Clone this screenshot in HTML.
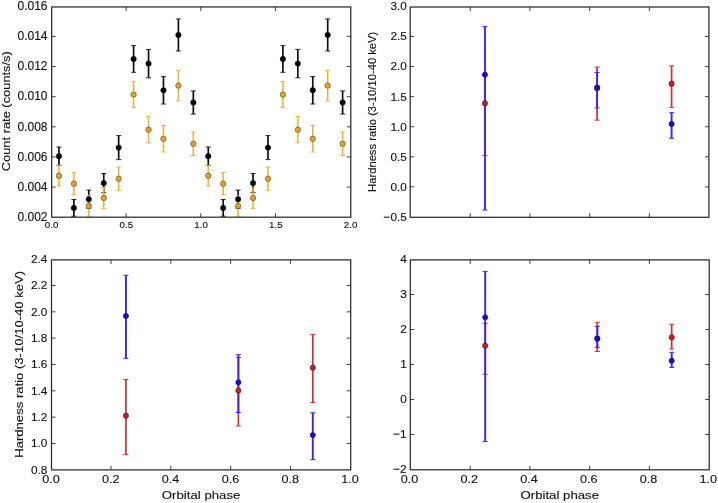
<!DOCTYPE html>
<html><head><meta charset="utf-8"><style>
html,body{margin:0;padding:0;background:#fff;}
body{width:718px;height:503px;overflow:hidden;}
svg{display:block;will-change:transform;font-family:"Liberation Sans", sans-serif;}
text{stroke:#111;stroke-width:0.12px;}
</style></head><body>
<svg width="718" height="503" viewBox="0 0 718 503">
<rect width="718" height="503" fill="#fff"/>
<clipPath id="c1"><rect x="51.70" y="6.96" width="299.10" height="210.24"/></clipPath>
<g clip-path="url(#c1)">
<path d="M58.96 165.40V147.00" stroke="#111" stroke-width="1.70"/>
<path d="M56.46 165.40h5.00M56.46 147.00h5.00" stroke="#111" stroke-width="0.90"/>
<path d="M58.96 186.00V165.60" stroke="#f0ae36" stroke-width="1.50"/>
<path d="M56.46 186.00h5.00M56.46 165.60h5.00" stroke="#f0ae36" stroke-width="0.90"/>
<path d="M73.89 216.25V199.55" stroke="#111" stroke-width="1.70"/>
<path d="M71.39 216.25h5.00M71.39 199.55h5.00" stroke="#111" stroke-width="0.90"/>
<path d="M73.89 194.80V172.60" stroke="#f0ae36" stroke-width="1.50"/>
<path d="M71.39 194.80h5.00M71.39 172.60h5.00" stroke="#f0ae36" stroke-width="0.90"/>
<path d="M88.81 208.30V190.10" stroke="#111" stroke-width="1.70"/>
<path d="M86.31 208.30h5.00M86.31 190.10h5.00" stroke="#111" stroke-width="0.90"/>
<path d="M88.81 216.20V195.60" stroke="#f0ae36" stroke-width="1.50"/>
<path d="M86.31 216.20h5.00M86.31 195.60h5.00" stroke="#f0ae36" stroke-width="0.90"/>
<path d="M103.75 192.70V173.50" stroke="#111" stroke-width="1.70"/>
<path d="M101.25 192.70h5.00M101.25 173.50h5.00" stroke="#111" stroke-width="0.90"/>
<path d="M103.75 208.70V187.30" stroke="#f0ae36" stroke-width="1.50"/>
<path d="M101.25 208.70h5.00M101.25 187.30h5.00" stroke="#f0ae36" stroke-width="0.90"/>
<path d="M118.68 159.60V135.60" stroke="#111" stroke-width="1.70"/>
<path d="M116.18 159.60h5.00M116.18 135.60h5.00" stroke="#111" stroke-width="0.90"/>
<path d="M118.68 190.40V167.00" stroke="#f0ae36" stroke-width="1.50"/>
<path d="M116.18 190.40h5.00M116.18 167.00h5.00" stroke="#f0ae36" stroke-width="0.90"/>
<path d="M133.61 72.30V45.60" stroke="#111" stroke-width="1.70"/>
<path d="M131.11 72.30h5.00M131.11 45.60h5.00" stroke="#111" stroke-width="0.90"/>
<path d="M133.61 107.50V81.70" stroke="#f0ae36" stroke-width="1.50"/>
<path d="M131.11 107.50h5.00M131.11 81.70h5.00" stroke="#f0ae36" stroke-width="0.90"/>
<path d="M148.54 77.80V49.40" stroke="#111" stroke-width="1.70"/>
<path d="M146.04 77.80h5.00M146.04 49.40h5.00" stroke="#111" stroke-width="0.90"/>
<path d="M148.54 142.90V116.50" stroke="#f0ae36" stroke-width="1.50"/>
<path d="M146.04 142.90h5.00M146.04 116.50h5.00" stroke="#f0ae36" stroke-width="0.90"/>
<path d="M163.47 104.00V76.60" stroke="#111" stroke-width="1.70"/>
<path d="M160.97 104.00h5.00M160.97 76.60h5.00" stroke="#111" stroke-width="0.90"/>
<path d="M163.47 152.00V125.60" stroke="#f0ae36" stroke-width="1.50"/>
<path d="M160.97 152.00h5.00M160.97 125.60h5.00" stroke="#f0ae36" stroke-width="0.90"/>
<path d="M178.40 51.00V18.90" stroke="#111" stroke-width="1.70"/>
<path d="M175.90 51.00h5.00M175.90 18.90h5.00" stroke="#111" stroke-width="0.90"/>
<path d="M178.40 100.80V70.40" stroke="#f0ae36" stroke-width="1.50"/>
<path d="M175.90 100.80h5.00M175.90 70.40h5.00" stroke="#f0ae36" stroke-width="0.90"/>
<path d="M193.33 114.10V90.90" stroke="#111" stroke-width="1.70"/>
<path d="M190.83 114.10h5.00M190.83 90.90h5.00" stroke="#111" stroke-width="0.90"/>
<path d="M193.33 155.50V132.10" stroke="#f0ae36" stroke-width="1.50"/>
<path d="M190.83 155.50h5.00M190.83 132.10h5.00" stroke="#f0ae36" stroke-width="0.90"/>
<path d="M208.26 165.40V147.00" stroke="#111" stroke-width="1.70"/>
<path d="M205.76 165.40h5.00M205.76 147.00h5.00" stroke="#111" stroke-width="0.90"/>
<path d="M208.26 186.00V165.60" stroke="#f0ae36" stroke-width="1.50"/>
<path d="M205.76 186.00h5.00M205.76 165.60h5.00" stroke="#f0ae36" stroke-width="0.90"/>
<path d="M223.19 216.25V199.55" stroke="#111" stroke-width="1.70"/>
<path d="M220.69 216.25h5.00M220.69 199.55h5.00" stroke="#111" stroke-width="0.90"/>
<path d="M223.19 194.80V172.60" stroke="#f0ae36" stroke-width="1.50"/>
<path d="M220.69 194.80h5.00M220.69 172.60h5.00" stroke="#f0ae36" stroke-width="0.90"/>
<path d="M238.12 208.30V190.10" stroke="#111" stroke-width="1.70"/>
<path d="M235.62 208.30h5.00M235.62 190.10h5.00" stroke="#111" stroke-width="0.90"/>
<path d="M238.12 216.20V195.60" stroke="#f0ae36" stroke-width="1.50"/>
<path d="M235.62 216.20h5.00M235.62 195.60h5.00" stroke="#f0ae36" stroke-width="0.90"/>
<path d="M253.05 192.70V173.50" stroke="#111" stroke-width="1.70"/>
<path d="M250.55 192.70h5.00M250.55 173.50h5.00" stroke="#111" stroke-width="0.90"/>
<path d="M253.05 208.70V187.30" stroke="#f0ae36" stroke-width="1.50"/>
<path d="M250.55 208.70h5.00M250.55 187.30h5.00" stroke="#f0ae36" stroke-width="0.90"/>
<path d="M267.98 159.60V135.60" stroke="#111" stroke-width="1.70"/>
<path d="M265.48 159.60h5.00M265.48 135.60h5.00" stroke="#111" stroke-width="0.90"/>
<path d="M267.98 190.40V167.00" stroke="#f0ae36" stroke-width="1.50"/>
<path d="M265.48 190.40h5.00M265.48 167.00h5.00" stroke="#f0ae36" stroke-width="0.90"/>
<path d="M282.91 72.30V45.60" stroke="#111" stroke-width="1.70"/>
<path d="M280.41 72.30h5.00M280.41 45.60h5.00" stroke="#111" stroke-width="0.90"/>
<path d="M282.91 107.50V81.70" stroke="#f0ae36" stroke-width="1.50"/>
<path d="M280.41 107.50h5.00M280.41 81.70h5.00" stroke="#f0ae36" stroke-width="0.90"/>
<path d="M297.84 77.80V49.40" stroke="#111" stroke-width="1.70"/>
<path d="M295.34 77.80h5.00M295.34 49.40h5.00" stroke="#111" stroke-width="0.90"/>
<path d="M297.84 142.90V116.50" stroke="#f0ae36" stroke-width="1.50"/>
<path d="M295.34 142.90h5.00M295.34 116.50h5.00" stroke="#f0ae36" stroke-width="0.90"/>
<path d="M312.77 104.00V76.60" stroke="#111" stroke-width="1.70"/>
<path d="M310.27 104.00h5.00M310.27 76.60h5.00" stroke="#111" stroke-width="0.90"/>
<path d="M312.77 152.00V125.60" stroke="#f0ae36" stroke-width="1.50"/>
<path d="M310.27 152.00h5.00M310.27 125.60h5.00" stroke="#f0ae36" stroke-width="0.90"/>
<path d="M327.70 51.00V18.90" stroke="#111" stroke-width="1.70"/>
<path d="M325.20 51.00h5.00M325.20 18.90h5.00" stroke="#111" stroke-width="0.90"/>
<path d="M327.70 100.80V70.40" stroke="#f0ae36" stroke-width="1.50"/>
<path d="M325.20 100.80h5.00M325.20 70.40h5.00" stroke="#f0ae36" stroke-width="0.90"/>
<path d="M342.63 114.10V90.90" stroke="#111" stroke-width="1.70"/>
<path d="M340.13 114.10h5.00M340.13 90.90h5.00" stroke="#111" stroke-width="0.90"/>
<path d="M342.63 155.50V132.10" stroke="#f0ae36" stroke-width="1.50"/>
<path d="M340.13 155.50h5.00M340.13 132.10h5.00" stroke="#f0ae36" stroke-width="0.90"/>
<circle cx="58.96" cy="156.20" r="2.70" fill="#000000" stroke="#000000" stroke-width="0.50"/>
<circle cx="58.96" cy="175.80" r="2.70" fill="#e8a025" stroke="#5a4520" stroke-width="0.60"/>
<circle cx="73.89" cy="207.90" r="2.70" fill="#000000" stroke="#000000" stroke-width="0.50"/>
<circle cx="73.89" cy="183.70" r="2.70" fill="#e8a025" stroke="#5a4520" stroke-width="0.60"/>
<circle cx="88.81" cy="199.20" r="2.70" fill="#000000" stroke="#000000" stroke-width="0.50"/>
<circle cx="88.81" cy="205.90" r="2.70" fill="#e8a025" stroke="#5a4520" stroke-width="0.60"/>
<circle cx="103.75" cy="183.10" r="2.70" fill="#000000" stroke="#000000" stroke-width="0.50"/>
<circle cx="103.75" cy="198.00" r="2.70" fill="#e8a025" stroke="#5a4520" stroke-width="0.60"/>
<circle cx="118.68" cy="147.60" r="2.70" fill="#000000" stroke="#000000" stroke-width="0.50"/>
<circle cx="118.68" cy="178.70" r="2.70" fill="#e8a025" stroke="#5a4520" stroke-width="0.60"/>
<circle cx="133.61" cy="58.95" r="2.70" fill="#000000" stroke="#000000" stroke-width="0.50"/>
<circle cx="133.61" cy="94.60" r="2.70" fill="#e8a025" stroke="#5a4520" stroke-width="0.60"/>
<circle cx="148.54" cy="63.60" r="2.70" fill="#000000" stroke="#000000" stroke-width="0.50"/>
<circle cx="148.54" cy="129.70" r="2.70" fill="#e8a025" stroke="#5a4520" stroke-width="0.60"/>
<circle cx="163.47" cy="90.30" r="2.70" fill="#000000" stroke="#000000" stroke-width="0.50"/>
<circle cx="163.47" cy="138.80" r="2.70" fill="#e8a025" stroke="#5a4520" stroke-width="0.60"/>
<circle cx="178.40" cy="34.95" r="2.70" fill="#000000" stroke="#000000" stroke-width="0.50"/>
<circle cx="178.40" cy="85.60" r="2.70" fill="#e8a025" stroke="#5a4520" stroke-width="0.60"/>
<circle cx="193.33" cy="102.50" r="2.70" fill="#000000" stroke="#000000" stroke-width="0.50"/>
<circle cx="193.33" cy="143.80" r="2.70" fill="#e8a025" stroke="#5a4520" stroke-width="0.60"/>
<circle cx="208.26" cy="156.20" r="2.70" fill="#000000" stroke="#000000" stroke-width="0.50"/>
<circle cx="208.26" cy="175.80" r="2.70" fill="#e8a025" stroke="#5a4520" stroke-width="0.60"/>
<circle cx="223.19" cy="207.90" r="2.70" fill="#000000" stroke="#000000" stroke-width="0.50"/>
<circle cx="223.19" cy="183.70" r="2.70" fill="#e8a025" stroke="#5a4520" stroke-width="0.60"/>
<circle cx="238.12" cy="199.20" r="2.70" fill="#000000" stroke="#000000" stroke-width="0.50"/>
<circle cx="238.12" cy="205.90" r="2.70" fill="#e8a025" stroke="#5a4520" stroke-width="0.60"/>
<circle cx="253.05" cy="183.10" r="2.70" fill="#000000" stroke="#000000" stroke-width="0.50"/>
<circle cx="253.05" cy="198.00" r="2.70" fill="#e8a025" stroke="#5a4520" stroke-width="0.60"/>
<circle cx="267.98" cy="147.60" r="2.70" fill="#000000" stroke="#000000" stroke-width="0.50"/>
<circle cx="267.98" cy="178.70" r="2.70" fill="#e8a025" stroke="#5a4520" stroke-width="0.60"/>
<circle cx="282.91" cy="58.95" r="2.70" fill="#000000" stroke="#000000" stroke-width="0.50"/>
<circle cx="282.91" cy="94.60" r="2.70" fill="#e8a025" stroke="#5a4520" stroke-width="0.60"/>
<circle cx="297.84" cy="63.60" r="2.70" fill="#000000" stroke="#000000" stroke-width="0.50"/>
<circle cx="297.84" cy="129.70" r="2.70" fill="#e8a025" stroke="#5a4520" stroke-width="0.60"/>
<circle cx="312.77" cy="90.30" r="2.70" fill="#000000" stroke="#000000" stroke-width="0.50"/>
<circle cx="312.77" cy="138.80" r="2.70" fill="#e8a025" stroke="#5a4520" stroke-width="0.60"/>
<circle cx="327.70" cy="34.95" r="2.70" fill="#000000" stroke="#000000" stroke-width="0.50"/>
<circle cx="327.70" cy="85.60" r="2.70" fill="#e8a025" stroke="#5a4520" stroke-width="0.60"/>
<circle cx="342.63" cy="102.50" r="2.70" fill="#000000" stroke="#000000" stroke-width="0.50"/>
<circle cx="342.63" cy="143.80" r="2.70" fill="#e8a025" stroke="#5a4520" stroke-width="0.60"/>
</g>
<path d="M126.14 217.20V213.20M126.14 6.96V10.96M200.79 217.20V213.20M200.79 6.96V10.96M275.44 217.20V213.20M275.44 6.96V10.96M51.70 187.12H55.70M350.80 187.12H346.80M51.70 156.97H55.70M350.80 156.97H346.80M51.70 126.83H55.70M350.80 126.83H346.80M51.70 96.67H55.70M350.80 96.67H346.80M51.70 66.53H55.70M350.80 66.53H346.80M51.70 36.38H55.70M350.80 36.38H346.80" stroke="#2b2b2b" stroke-width="0.9" fill="none"/>
<rect x="51.70" y="6.96" width="299.10" height="210.24" fill="none" stroke="#2b2b2b" stroke-width="1.25"/>
<clipPath id="c2"><rect x="410.20" y="7.00" width="298.70" height="210.30"/></clipPath>
<g clip-path="url(#c2)">
<path d="M484.95 155.35V74.66" stroke="#d42c32" stroke-width="1.70"/>
<path d="M482.45 155.35h5.00M482.45 74.66h5.00" stroke="#d42c32" stroke-width="1.00"/>
<path d="M597.10 120.14V67.09" stroke="#d42c32" stroke-width="1.70"/>
<path d="M594.60 120.14h5.00M594.60 67.09h5.00" stroke="#d42c32" stroke-width="1.00"/>
<path d="M671.60 107.46V65.88" stroke="#d42c32" stroke-width="1.70"/>
<path d="M669.10 107.46h5.00M669.10 65.88h5.00" stroke="#d42c32" stroke-width="1.00"/>
<path d="M484.95 210.03V26.41" stroke="#4020ff" stroke-width="1.90"/>
<path d="M482.45 210.03h5.00M482.45 26.41h5.00" stroke="#4020ff" stroke-width="1.00"/>
<path d="M597.10 107.94V72.49" stroke="#4020ff" stroke-width="1.90"/>
<path d="M594.60 107.94h5.00M594.60 72.49h5.00" stroke="#4020ff" stroke-width="1.00"/>
<path d="M671.60 138.23V112.69" stroke="#4020ff" stroke-width="1.90"/>
<path d="M669.10 138.23h5.00M669.10 112.69h5.00" stroke="#4020ff" stroke-width="1.00"/>
<circle cx="484.95" cy="103.14" r="2.60" fill="#d8181e" stroke="#1a1a1a" stroke-width="0.60"/>
<circle cx="597.10" cy="88.42" r="2.60" fill="#d8181e" stroke="#1a1a1a" stroke-width="0.60"/>
<circle cx="671.60" cy="83.67" r="2.60" fill="#d8181e" stroke="#1a1a1a" stroke-width="0.60"/>
<circle cx="484.95" cy="74.66" r="2.60" fill="#1c06ea" stroke="#1a1a1a" stroke-width="0.60"/>
<circle cx="597.10" cy="87.27" r="2.60" fill="#1c06ea" stroke="#1a1a1a" stroke-width="0.60"/>
<circle cx="671.60" cy="123.93" r="2.60" fill="#1c06ea" stroke="#1a1a1a" stroke-width="0.60"/>
</g>
<path d="M470.22 217.30V213.30M470.22 7.00V11.00M529.94 217.30V213.30M529.94 7.00V11.00M589.66 217.30V213.30M589.66 7.00V11.00M649.38 217.30V213.30M649.38 7.00V11.00M410.20 186.87H414.20M708.90 186.87H704.90M410.20 156.79H414.20M708.90 156.79H704.90M410.20 126.71H414.20M708.90 126.71H704.90M410.20 96.63H414.20M708.90 96.63H704.90M410.20 66.55H414.20M708.90 66.55H704.90M410.20 36.47H414.20M708.90 36.47H704.90" stroke="#2b2b2b" stroke-width="0.9" fill="none"/>
<rect x="410.20" y="7.00" width="298.70" height="210.30" fill="none" stroke="#2b2b2b" stroke-width="1.25"/>
<clipPath id="c3"><rect x="51.50" y="259.90" width="299.20" height="210.00"/></clipPath>
<g clip-path="url(#c3)">
<path d="M125.95 454.67V379.47" stroke="#d42c32" stroke-width="1.70"/>
<path d="M123.45 454.67h5.00M123.45 379.47h5.00" stroke="#d42c32" stroke-width="1.00"/>
<path d="M238.40 426.06V357.55" stroke="#d42c32" stroke-width="1.70"/>
<path d="M235.90 426.06h5.00M235.90 357.55h5.00" stroke="#d42c32" stroke-width="1.00"/>
<path d="M312.80 402.57V334.32" stroke="#d42c32" stroke-width="1.70"/>
<path d="M310.30 402.57h5.00M310.30 334.32h5.00" stroke="#d42c32" stroke-width="1.00"/>
<path d="M125.95 358.34V275.26" stroke="#4020ff" stroke-width="1.90"/>
<path d="M123.45 358.34h5.00M123.45 275.26h5.00" stroke="#4020ff" stroke-width="1.00"/>
<path d="M238.40 412.54V354.66" stroke="#4020ff" stroke-width="1.90"/>
<path d="M235.90 412.54h5.00M235.90 354.66h5.00" stroke="#4020ff" stroke-width="1.00"/>
<path d="M312.80 459.66V412.81" stroke="#4020ff" stroke-width="1.90"/>
<path d="M310.30 459.66h5.00M310.30 412.81h5.00" stroke="#4020ff" stroke-width="1.00"/>
<circle cx="125.95" cy="415.69" r="2.60" fill="#d8181e" stroke="#1a1a1a" stroke-width="0.60"/>
<circle cx="238.40" cy="390.49" r="2.60" fill="#d8181e" stroke="#1a1a1a" stroke-width="0.60"/>
<circle cx="312.80" cy="367.66" r="2.60" fill="#d8181e" stroke="#1a1a1a" stroke-width="0.60"/>
<circle cx="125.95" cy="315.94" r="2.60" fill="#1c06ea" stroke="#1a1a1a" stroke-width="0.60"/>
<circle cx="238.40" cy="382.36" r="2.60" fill="#1c06ea" stroke="#1a1a1a" stroke-width="0.60"/>
<circle cx="312.80" cy="435.12" r="2.60" fill="#1c06ea" stroke="#1a1a1a" stroke-width="0.60"/>
</g>
<path d="M111.00 469.90V465.90M111.00 259.90V263.90M170.80 469.90V465.90M170.80 259.90V263.90M230.60 469.90V465.90M230.60 259.90V263.90M290.40 469.90V465.90M290.40 259.90V263.90M51.50 443.47H55.50M350.70 443.47H346.70M51.50 417.14H55.50M350.70 417.14H346.70M51.50 390.81H55.50M350.70 390.81H346.70M51.50 364.48H55.50M350.70 364.48H346.70M51.50 338.15H55.50M350.70 338.15H346.70M51.50 311.82H55.50M350.70 311.82H346.70M51.50 285.49H55.50M350.70 285.49H346.70" stroke="#2b2b2b" stroke-width="0.9" fill="none"/>
<rect x="51.50" y="259.90" width="299.20" height="210.00" fill="none" stroke="#2b2b2b" stroke-width="1.25"/>
<clipPath id="c4"><rect x="410.30" y="259.90" width="298.90" height="209.90"/></clipPath>
<g clip-path="url(#c4)">
<path d="M485.20 374.30V323.29" stroke="#d42c32" stroke-width="1.70"/>
<path d="M482.70 374.30h5.00M482.70 323.29h5.00" stroke="#d42c32" stroke-width="1.00"/>
<path d="M597.30 351.49V322.28" stroke="#d42c32" stroke-width="1.70"/>
<path d="M594.80 351.49h5.00M594.80 322.28h5.00" stroke="#d42c32" stroke-width="1.00"/>
<path d="M671.70 349.00V324.27" stroke="#d42c32" stroke-width="1.70"/>
<path d="M669.20 349.00h5.00M669.20 324.27h5.00" stroke="#d42c32" stroke-width="1.00"/>
<path d="M485.20 441.50V271.37" stroke="#4020ff" stroke-width="1.90"/>
<path d="M482.70 441.50h5.00M482.70 271.37h5.00" stroke="#4020ff" stroke-width="1.00"/>
<path d="M597.30 347.29V326.30" stroke="#4020ff" stroke-width="1.90"/>
<path d="M594.80 347.29h5.00M594.80 326.30h5.00" stroke="#4020ff" stroke-width="1.00"/>
<path d="M671.70 367.47V352.29" stroke="#4020ff" stroke-width="1.90"/>
<path d="M669.20 367.47h5.00M669.20 352.29h5.00" stroke="#4020ff" stroke-width="1.00"/>
<circle cx="485.20" cy="345.68" r="2.60" fill="#d8181e" stroke="#1a1a1a" stroke-width="0.60"/>
<circle cx="597.30" cy="338.61" r="2.60" fill="#d8181e" stroke="#1a1a1a" stroke-width="0.60"/>
<circle cx="671.70" cy="337.28" r="2.60" fill="#d8181e" stroke="#1a1a1a" stroke-width="0.60"/>
<circle cx="485.20" cy="317.27" r="2.60" fill="#1c06ea" stroke="#1a1a1a" stroke-width="0.60"/>
<circle cx="597.30" cy="338.58" r="2.60" fill="#1c06ea" stroke="#1a1a1a" stroke-width="0.60"/>
<circle cx="671.70" cy="360.69" r="2.60" fill="#1c06ea" stroke="#1a1a1a" stroke-width="0.60"/>
</g>
<path d="M470.22 469.80V465.80M470.22 259.90V263.90M529.94 469.80V465.80M529.94 259.90V263.90M589.66 469.80V465.80M589.66 259.90V263.90M649.38 469.80V465.80M649.38 259.90V263.90M410.30 434.45H414.30M709.20 434.45H705.20M410.30 399.47H414.30M709.20 399.47H705.20M410.30 364.49H414.30M709.20 364.49H705.20M410.30 329.51H414.30M709.20 329.51H705.20M410.30 294.53H414.30M709.20 294.53H705.20" stroke="#2b2b2b" stroke-width="0.9" fill="none"/>
<rect x="410.30" y="259.90" width="298.90" height="209.90" fill="none" stroke="#2b2b2b" stroke-width="1.25"/>
<text x="47.50" y="221.07" font-size="12.00" text-anchor="end" fill="#111">0.002</text>
<text x="47.50" y="190.92" font-size="12.00" text-anchor="end" fill="#111">0.004</text>
<text x="47.50" y="160.77" font-size="12.00" text-anchor="end" fill="#111">0.006</text>
<text x="47.50" y="130.62" font-size="12.00" text-anchor="end" fill="#111">0.008</text>
<text x="47.50" y="100.47" font-size="12.00" text-anchor="end" fill="#111">0.010</text>
<text x="47.50" y="70.32" font-size="12.00" text-anchor="end" fill="#111">0.012</text>
<text x="47.50" y="40.17" font-size="12.00" text-anchor="end" fill="#111">0.014</text>
<text x="47.50" y="10.02" font-size="12.00" text-anchor="end" fill="#111">0.016</text>
<text x="51.65" y="228.30" font-size="9.80" text-anchor="middle" fill="#111">0.0</text>
<text x="126.40" y="228.30" font-size="9.80" text-anchor="middle" fill="#111">0.5</text>
<text x="201.15" y="228.30" font-size="9.80" text-anchor="middle" fill="#111">1.0</text>
<text x="275.90" y="228.30" font-size="9.80" text-anchor="middle" fill="#111">1.5</text>
<text x="350.65" y="228.30" font-size="9.80" text-anchor="middle" fill="#111">2.0</text>
<text transform="translate(10.00 111.20) rotate(-90) scale(1.120 1)" font-size="11.50" text-anchor="middle" fill="#111">Count rate (counts/s)</text>
<text x="406.90" y="220.87" font-size="11.80" text-anchor="end" fill="#111">−0.5</text>
<text x="406.90" y="190.79" font-size="11.80" text-anchor="end" fill="#111">0.0</text>
<text x="406.90" y="160.71" font-size="11.80" text-anchor="end" fill="#111">0.5</text>
<text x="406.90" y="130.63" font-size="11.80" text-anchor="end" fill="#111">1.0</text>
<text x="406.90" y="100.55" font-size="11.80" text-anchor="end" fill="#111">1.5</text>
<text x="406.90" y="70.47" font-size="11.80" text-anchor="end" fill="#111">2.0</text>
<text x="406.90" y="40.39" font-size="11.80" text-anchor="end" fill="#111">2.5</text>
<text x="406.90" y="10.31" font-size="11.80" text-anchor="end" fill="#111">3.0</text>
<text transform="translate(375.90 111.80) rotate(-90) scale(1.100 1)" font-size="10.20" text-anchor="middle" fill="#111">Hardness ratio (3-10/10-40 keV)</text>
<text x="47.30" y="473.52" font-size="11.80" text-anchor="end" fill="#111">0.8</text>
<text x="47.30" y="447.19" font-size="11.80" text-anchor="end" fill="#111">1.0</text>
<text x="47.30" y="420.86" font-size="11.80" text-anchor="end" fill="#111">1.2</text>
<text x="47.30" y="394.53" font-size="11.80" text-anchor="end" fill="#111">1.4</text>
<text x="47.30" y="368.20" font-size="11.80" text-anchor="end" fill="#111">1.6</text>
<text x="47.30" y="341.87" font-size="11.80" text-anchor="end" fill="#111">1.8</text>
<text x="47.30" y="315.54" font-size="11.80" text-anchor="end" fill="#111">2.0</text>
<text x="47.30" y="289.21" font-size="11.80" text-anchor="end" fill="#111">2.2</text>
<text x="47.30" y="262.88" font-size="11.80" text-anchor="end" fill="#111">2.4</text>
<text transform="translate(50.90 483.00) scale(1.070 1)" font-size="11.80" text-anchor="middle" fill="#111">0.0</text>
<text transform="translate(110.74 483.00) scale(1.070 1)" font-size="11.80" text-anchor="middle" fill="#111">0.2</text>
<text transform="translate(170.58 483.00) scale(1.070 1)" font-size="11.80" text-anchor="middle" fill="#111">0.4</text>
<text transform="translate(230.42 483.00) scale(1.070 1)" font-size="11.80" text-anchor="middle" fill="#111">0.6</text>
<text transform="translate(290.26 483.00) scale(1.070 1)" font-size="11.80" text-anchor="middle" fill="#111">0.8</text>
<text transform="translate(350.10 483.00) scale(1.070 1)" font-size="11.80" text-anchor="middle" fill="#111">1.0</text>
<text transform="translate(23.20 364.30) rotate(-90) scale(1.160 1)" font-size="11.30" text-anchor="middle" fill="#111">Hardness ratio (3-10/10-40 keV)</text>
<text transform="translate(201.10 498.60) scale(1.120 1)" font-size="11.80" text-anchor="middle" fill="#111">Orbital phase</text>
<text x="406.70" y="473.05" font-size="11.80" text-anchor="end" fill="#111">−2</text>
<text x="406.70" y="438.07" font-size="11.80" text-anchor="end" fill="#111">−1</text>
<text x="406.70" y="403.09" font-size="11.80" text-anchor="end" fill="#111">0</text>
<text x="406.70" y="368.11" font-size="11.80" text-anchor="end" fill="#111">1</text>
<text x="406.70" y="333.13" font-size="11.80" text-anchor="end" fill="#111">2</text>
<text x="406.70" y="298.15" font-size="11.80" text-anchor="end" fill="#111">3</text>
<text x="406.70" y="263.17" font-size="11.80" text-anchor="end" fill="#111">4</text>
<text transform="translate(409.60 483.00) scale(1.070 1)" font-size="11.80" text-anchor="middle" fill="#111">0.0</text>
<text transform="translate(469.32 483.00) scale(1.070 1)" font-size="11.80" text-anchor="middle" fill="#111">0.2</text>
<text transform="translate(529.04 483.00) scale(1.070 1)" font-size="11.80" text-anchor="middle" fill="#111">0.4</text>
<text transform="translate(588.76 483.00) scale(1.070 1)" font-size="11.80" text-anchor="middle" fill="#111">0.6</text>
<text transform="translate(648.48 483.00) scale(1.070 1)" font-size="11.80" text-anchor="middle" fill="#111">0.8</text>
<text transform="translate(708.20 483.00) scale(1.070 1)" font-size="11.80" text-anchor="middle" fill="#111">1.0</text>
<text transform="translate(559.75 498.60) scale(1.120 1)" font-size="11.80" text-anchor="middle" fill="#111">Orbital phase</text>
</svg>
</body></html>
